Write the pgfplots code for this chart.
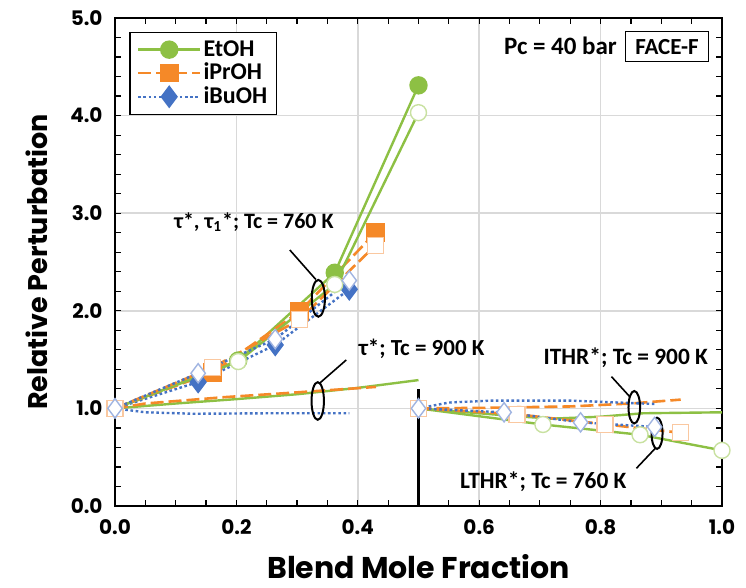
\documentclass[border=0pt]{standalone}
\usepackage{fontspec}
\setmainfont{Carlito}
\newfontfamily\poppins{Poppins}
\usepackage{pgfplots}
\pgfplotsset{compat=1.18}
\definecolor{cG}{RGB}{141,192,68}
\definecolor{cO}{RGB}{245,137,40}
\definecolor{cB}{RGB}{68,114,196}
\definecolor{cGl}{RGB}{200,225,160}
\definecolor{cOl}{RGB}{250,200,160}
\definecolor{cBl}{RGB}{160,180,225}
\pgfplotsset{
 et/.style={color=cG, line width=1.2pt, solid},
 ip/.style={color=cO, line width=1.3pt, dash pattern=on 6.5pt off 2.5pt},
 ib/.style={color=cB, line width=1.2pt, dash pattern=on 1.3pt off 1.3pt},
 fG/.style={mark=*, mark size=4pt, mark options={solid, fill=cG, draw=cG}},
 fO/.style={mark=square*, mark size=4pt, mark options={solid, fill=cO, draw=cO}},
 fB/.style={mark=diamond*, mark size=4.8pt, mark options={solid, fill=cB, draw=cB}},
 oG/.style={mark=*, mark size=4pt, mark options={solid, fill=white, draw=cGl, line width=0.7pt}},
 oO/.style={mark=square*, mark size=4pt, mark options={solid, fill=white, draw=cOl, line width=0.7pt}},
 oB/.style={mark=diamond*, mark size=4.8pt, mark options={solid, fill=white, draw=cBl, line width=0.7pt}},
}
\begin{document}
\begin{tikzpicture}
\path[use as bounding box] (-57.5pt,-41pt) rectangle (315.5pt,253pt);
\begin{axis}[
  at={(0,0)}, anchor=south west,
  scale only axis, width=303.5pt, height=244pt,
  xmin=0, xmax=1, ymin=0, ymax=5,
  xtick={0,0.2,0.4,0.6,0.8,1.0}, ytick={0,1,2,3,4,5},
  minor x tick num=3, minor y tick num=4,
  tick align=inside, major tick length=3pt, minor tick length=3pt,
  grid=major, major grid style={draw=black!15, line width=0.8pt},
  axis line style={line width=0.9pt},
  every tick/.style={black, line width=0.6pt},
  /pgf/number format/.cd, fixed, fixed zerofill, precision=1, assume math mode=true,
  /pgfplots/.cd,
  ticklabel style={font=\poppins\bfseries\fontsize{10}{12}\selectfont},
  xticklabel style={yshift=-3.5pt},
  yticklabel style={xshift=-2.7pt},
  xlabel={Blend Mole Fraction}, ylabel={Relative Perturbation},
  xlabel style={font=\poppins\bfseries\fontsize{15}{17}\selectfont, at={(axis description cs:0.5,-0.124)}, anchor=center},
  ylabel style={font=\poppins\bfseries\fontsize{13.5}{16}\selectfont, at={(axis description cs:-0.1285,0.5)}, anchor=center},
  clip=false,
  legend cell align=left,
  legend style={at={(axis description cs:0.0236,0.972)}, anchor=north west, draw=black, line width=0.6pt,
    font=\bfseries\fontsize{12}{14}\selectfont, inner xsep=3.5pt, inner ysep=3pt, nodes={inner sep=1pt}},
  legend image code/.code={\draw[#1, mark=none] (0pt,0pt) -- (31pt,0pt); \draw[#1, mark indices={1}] plot coordinates {(15.5pt,0pt)};},
]
% divider
\addplot[black, line width=1.3pt, forget plot] coordinates {(0.5,0) (0.5,1.2)};

% tau* Tc=900 K (no markers)
\addplot[et, no marks, forget plot] coordinates {(0,1) (0.1,1.05) (0.2,1.095) (0.3,1.145) (0.4,1.21) (0.5,1.29)};
\addplot[ip, no marks, forget plot] coordinates {(0,1) (0.05,1.05) (0.18,1.115) (0.29,1.16) (0.43,1.22)};
\addplot[ib, no marks, forget plot] coordinates {(0,1) (0.05,0.96) (0.13,0.945) (0.25,0.95) (0.386,0.95)};

% ITHR* Tc=900 K (no markers)
\addplot[et, no marks, forget plot] coordinates {(0.5,1.0) (0.6,0.95) (0.66,0.92) (0.72,0.895) (0.8,0.915) (0.87,0.95) (1.0,0.96)};
\addplot[ip, no marks, forget plot] coordinates {(0.5,1.0) (0.6,1.005) (0.75,1.02) (0.85,1.05) (0.932,1.09)};
\addplot[ib, no marks, forget plot] coordinates {(0.5,1.0) (0.55,1.06) (0.62,1.08) (0.75,1.08) (0.889,1.045)};

% tau* Tc=760 K (filled markers)
\addplot[et, fG, mark indices={2,3,4}] coordinates {(0,1) (0.203,1.49) (0.362,2.39) (0.5,4.31)};
\addlegendentry{EtOH}
\addplot[ip, fO, mark indices={2,3,4}] coordinates {(0,1) (0.161,1.37) (0.304,1.99) (0.429,2.80)};
\addlegendentry{iPrOH}
\addplot[ib, fB, mark indices={2,3,4}] coordinates {(0,1) (0.137,1.27) (0.264,1.65) (0.386,2.22)};
\addlegendentry{iBuOH}

% tau1* Tc=760 K (open markers)
\addplot[et, oG, mark indices={2,3,4}, forget plot] coordinates {(0,1) (0.203,1.48) (0.362,2.27) (0.5,4.03)};
\addplot[ip, oO, forget plot] coordinates {(0,1) (0.161,1.42) (0.304,1.91) (0.429,2.67)};
\addplot[ib, oB, forget plot] coordinates {(0,1) (0.137,1.36) (0.264,1.71) (0.386,2.31)};

% LTHR* Tc=760 K (open markers)
\addplot[et, oG, mark indices={2,3,4}, forget plot] coordinates {(0.5,1.0) (0.705,0.835) (0.865,0.73) (1.0,0.57)};
\addplot[ip, oO, forget plot] coordinates {(0.5,1.0) (0.662,0.94) (0.807,0.837) (0.932,0.75)};
\addplot[ib, oB, forget plot] coordinates {(0.5,1.0) (0.641,0.96) (0.767,0.857) (0.889,0.81)};

% open markers on top at the shared starting points
\addplot[only marks, oO, forget plot] coordinates {(0,1) (0.5,1.0)};
\addplot[only marks, oB, forget plot] coordinates {(0,1) (0.5,1.0)};

% annotations
\node[font=\bfseries\fontsize{11}{13}\selectfont, anchor=base] at (axis cs:0.229,2.845) {τ*, τ\textsubscript{1}*; Tc = 760 K};
\draw[line width=0.8pt] (axis cs:0.288,2.623) -- (axis cs:0.331,2.32);
\draw[line width=1pt] (axis cs:0.335,2.128) ellipse [x radius=3.3pt, y radius=9.2pt];

\node[font=\bfseries\fontsize{11.5}{13}\selectfont, anchor=base west] at (axis cs:0.39,1.547) {τ*; Tc = 900 K};
\draw[line width=0.8pt] (axis cs:0.381,1.496) -- (axis cs:0.338,1.263);
\draw[line width=1pt] (axis cs:0.334,1.076) ellipse [x radius=3.1pt, y radius=9.4pt];

\node[font=\bfseries\fontsize{11.7}{13}\selectfont, anchor=base] at (axis cs:0.8415,1.445) {ITHR*; Tc = 900 K};
\draw[line width=0.8pt] (axis cs:0.818,1.325) -- (axis cs:0.848,1.12);
\draw[line width=1pt] (axis cs:0.8555,1.012) ellipse [x radius=2.9pt, y radius=8.1pt];

\node[font=\bfseries\fontsize{11.7}{13}\selectfont, anchor=base] at (axis cs:0.7057,0.181) {LTHR*; Tc = 760 K};
\draw[line width=0.8pt] (axis cs:0.859,0.386) -- (axis cs:0.89,0.59);
\draw[line width=1pt] (axis cs:0.893,0.745) ellipse [x radius=2.75pt, y radius=7.8pt];

\node[font=\bfseries\fontsize{12.5}{14}\selectfont, anchor=base] at (axis cs:0.734,4.628) {Pc = 40 bar};
\node[font=\bfseries\fontsize{11.5}{13}\selectfont, draw=black, line width=0.6pt, minimum width=41.3pt, minimum height=15pt, inner sep=0pt] at (axis cs:0.9094,4.706) {FACE-F};
\end{axis}
\end{tikzpicture}
\end{document}
